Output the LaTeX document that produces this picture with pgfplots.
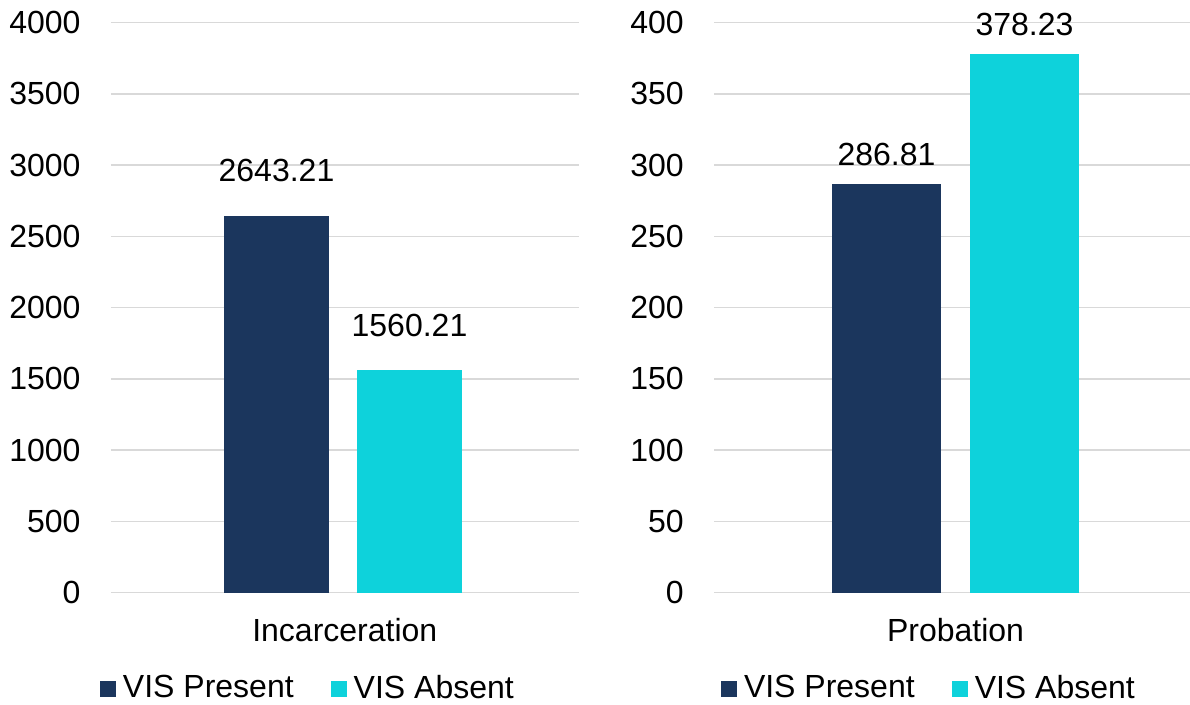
\documentclass[border=0pt]{standalone}
\usepackage{pgfplots}
\pgfplotsset{compat=1.18}
\usepackage{fontspec}
\setmainfont{Liberation Sans}
\definecolor{navy}{HTML}{1B365D}
\definecolor{cyanb}{HTML}{0ED2DB}
\definecolor{gridgray}{HTML}{D9D9D9}

\pgfplotsset{
 sqlegend/.style={legend image code/.code={\fill[##1] (0pt,-7.5pt) rectangle (12pt,4.5pt);}},
 panel/.style={
  scale only axis, ybar, bar shift=0pt,
  axis line style={draw=none},
  major tick length=0pt,
  ymajorgrids, grid style={gridgray, line width=1.2pt},
  /pgf/number format/assume math mode=true,
  /pgf/number format/1000 sep={},
  yticklabel style={anchor=east, inner sep=0pt, xshift=-22.5pt},
  xticklabel style={anchor=base, inner sep=0pt, yshift=-36.8pt},
  ymin=0, clip=false,
  nodes near coords, point meta=explicit symbolic,
  nodes near coords style={anchor=base, inner sep=0pt, text=black},
  legend columns=2,
  legend style={draw=none, fill=none, inner sep=0pt, outer sep=0pt,
    anchor=south west, cells={anchor=west}, nodes={inner sep=0pt},
    /tikz/every odd column/.append style={column sep=5.25pt},
    /tikz/every even column/.append style={column sep=27.75pt}},
 }
}

\begin{document}
\begin{tikzpicture}[font=\fontsize{24}{28}\selectfont]
\useasboundingbox (0,0) rectangle (892.5pt,528pt);

\begin{axis}[panel, at={(83.1pt,83.55pt)}, anchor=south west,
  width=351pt, height=427.5pt,
  xmin=110.8, xmax=578.8, ymax=4000, ytick={0,500,...,4000},
  xtick={344.8}, xticklabels={Incarceration},
  bar width=78.75pt,
  nodes near coords style={yshift=25.5pt},
  legend style={at={(axis cs:100,-753.7)}}]
\addplot[fill=navy, draw=none, sqlegend] coordinates {(276.5,2643.21) [2643.21]};
\addlegendentry{VIS Present}
\addplot[fill=cyanb, draw=none, sqlegend] coordinates {(409.5,1560.21) [1560.21]};
\addlegendentry{VIS Absent}
\end{axis}

\begin{axis}[panel, at={(535.5pt,83.55pt)}, anchor=south west,
  width=357pt, height=427.5pt,
  xmin=714, xmax=1190, ymax=400, ytick={0,50,...,400},
  xtick={955.5}, xticklabels={Probation},
  bar width=81.75pt,
  nodes near coords style={yshift=13.9pt},
  legend style={at={(axis cs:721,-75.37)}}]
\addplot[fill=navy, draw=none, sqlegend] coordinates {(886.5,286.81) [286.81]};
\addlegendentry{VIS Present}
\addplot[fill=cyanb, draw=none, sqlegend] coordinates {(1024.5,378.23) [378.23]};
\addlegendentry{VIS Absent}
\end{axis}
\end{tikzpicture}
\end{document}
